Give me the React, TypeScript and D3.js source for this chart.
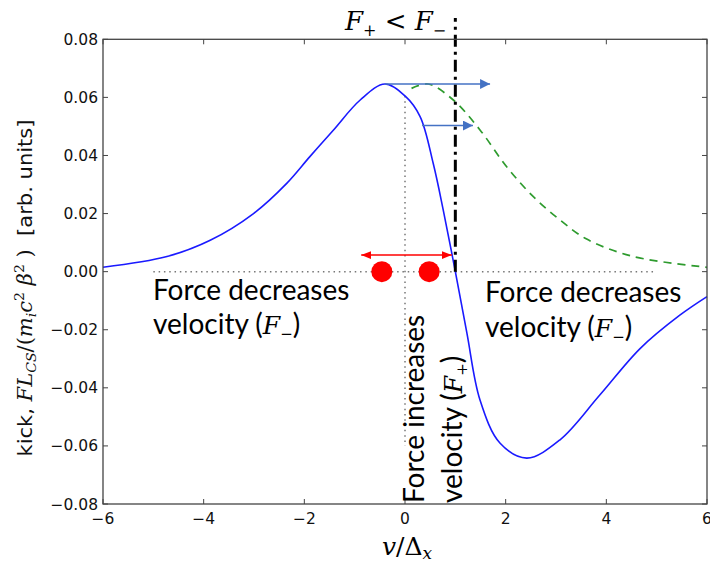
import React from "react";
import * as d3 from "d3";

// blue solid curve
const blueX = [-6, -4.73, -3.87, -3.01, -2.35, -1.89, -1.42, -0.89, -0.4, 0, 0.3, 0.56, 0.76, 1.0, 1.23, 1.49, 1.89, 2.42, 3.08, 3.87, 4.67, 5.46, 6];
const blueY = [0.0015, 0.0052, 0.0108, 0.02, 0.0304, 0.0396, 0.0488, 0.0591, 0.0646, 0.0605, 0.0534, 0.0373, 0.0212, 0, -0.0212, -0.0442, -0.0591, -0.0642, -0.0579, -0.0425, -0.0265, -0.015, -0.0086];

// green dashed curve
const greenX = [0.13, 0.46, 0.96, 1.49, 2.02, 2.55, 3.08, 3.61, 4.54, 6];
const greenY = [0.0631, 0.0646, 0.0591, 0.0488, 0.0361, 0.0258, 0.0178, 0.0112, 0.0052, 0.0015];

const xTicks = [-6, -4, -2, 0, 2, 4, 6];
const yTicks = [-0.08, -0.06, -0.04, -0.02, 0, 0.02, 0.04, 0.06, 0.08];

// red particles and arrows
const dotX = [-0.46, 0.48];
const blueArrows = [
  { x0: -0.4, x1: 1.69, y: 0.0646 },
  { x0: 0.34, x1: 1.35, y: 0.0503 },
];
const redArrow = { x0: -0.87, x1: 0.93, y: 0.0057 };
const lineX = 1.0;

const sans = "Lato, 'Open Sans', sans-serif";
const serif = "'DejaVu Serif', 'Liberation Serif', serif";
const tickFont = "'DejaVu Sans', sans-serif";

const App = () => {
  const x = d3.scaleLinear().domain([-6, 6]).range([103, 707]);
  const y = d3.scaleLinear().domain([-0.08, 0.08]).range([504, 39.3]);

  const blueLine = d3
    .line<number>()
    .x((d, i) => x(blueX[i]))
    .y((d) => y(d))
    .curve(d3.curveCatmullRom.alpha(0.5));
  const greenLine = d3
    .line<number>()
    .x((d, i) => x(greenX[i]))
    .y((d) => y(d))
    .curve(d3.curveCatmullRom.alpha(0.5));

  const fx = d3.format("d");
  const fy = d3.format(".2f");
  const [x0, x1] = x.range();
  const [y0, y1] = y.range();

  return (
    <svg width={710} height={565} style={{ position: "absolute", left: 0, top: 0, background: "white" }}>
      <defs>
        <marker id="blueHead" markerUnits="userSpaceOnUse" markerWidth={11} markerHeight={11} refX={10} refY={5} orient="auto">
          <path d="M0,0 L10,5 L0,10 z" fill="#4472C4" />
        </marker>
        <marker id="redHead" markerUnits="userSpaceOnUse" markerWidth={11} markerHeight={9} refX={10} refY={4} orient="auto-start-reverse">
          <path d="M0,0 L10,4 L0,8 z" fill="#FF0000" />
        </marker>
      </defs>

      {/* reference dotted lines */}
      <line x1={x(-5)} x2={x(5)} y1={y(0)} y2={y(0)} stroke="#777" strokeWidth={1.5} strokeDasharray="1.5,3.8" />
      <line x1={x(0)} x2={x(0)} y1={y(0.0605)} y2={y(-0.06)} stroke="#777" strokeWidth={1.5} strokeDasharray="1.5,3.8" />

      {/* curves */}
      <path d={greenLine(greenY) || ""} fill="none" stroke="#2e9b2e" strokeWidth={1.7} strokeDasharray="8,6" />
      <path d={blueLine(blueY) || ""} fill="none" stroke="#1a1aff" strokeWidth={1.6} />

      {/* blue shift arrows */}
      {blueArrows.map((a, i) => (
        <line key={i} x1={x(a.x0)} x2={x(a.x1)} y1={y(a.y)} y2={y(a.y)} stroke="#4472C4" strokeWidth={1.4} markerEnd="url(#blueHead)" />
      ))}

      {/* dash-dot threshold */}
      <line x1={x(lineX)} x2={x(lineX)} y1={y(0)} y2={18} stroke="black" strokeWidth={3} strokeDasharray="12,5,3,5" />

      {/* red particles */}
      <line x1={x(redArrow.x0)} x2={x(redArrow.x1)} y1={y(redArrow.y)} y2={y(redArrow.y)} stroke="#FF0000" strokeWidth={1.5}
        markerStart="url(#redHead)" markerEnd="url(#redHead)" />
      {dotX.map((d, i) => (
        <circle key={i} cx={x(d)} cy={y(0)} r={10.5} fill="#FF0000" />
      ))}

      {/* frame */}
      <rect x={x0} y={y1} width={x1 - x0} height={y0 - y1} fill="none" stroke="#444" strokeWidth={1.3} />
      {xTicks.map((t) => (
        <g key={"x" + t}>
          <line x1={x(t)} x2={x(t)} y1={y0} y2={y0 - 5} stroke="#444" />
          <line x1={x(t)} x2={x(t)} y1={y1} y2={y1 + 5} stroke="#444" />
          <text x={x(t)} y={y0 + 20} textAnchor="middle" fontFamily={tickFont} fontSize={15.5} fill="#111">{fx(t)}</text>
        </g>
      ))}
      {yTicks.map((t) => (
        <g key={"y" + t}>
          <line x1={x0} x2={x0 + 5} y1={y(t)} y2={y(t)} stroke="#444" />
          <line x1={x1} x2={x1 - 5} y1={y(t)} y2={y(t)} stroke="#444" />
          <text x={x0 - 5} y={y(t)} dy="0.36em" textAnchor="end" fontFamily={tickFont} fontSize={15.5} fill="#111">{fy(t)}</text>
        </g>
      ))}

      {/* title */}
      <text x={345} y={30} fontFamily={serif} fontSize={26} fill="black">
        <tspan fontStyle="italic">F</tspan>
        <tspan fontSize={16} dy={6}>+</tspan>
        <tspan dy={-6}> &lt; </tspan>
        <tspan fontStyle="italic">F</tspan>
        <tspan fontSize={16} dy={6}>−</tspan>
      </text>

      {/* axis labels */}
      <text x={407} y={555} textAnchor="middle" fontFamily={serif} fontSize={25} fill="black">
        <tspan fontStyle="italic">v</tspan>
        <tspan>/Δ</tspan>
        <tspan fontStyle="italic" fontSize={17} dy={4}>x</tspan>
      </text>
      <text transform="translate(32,288) rotate(-90) scale(1.08,1)" textAnchor="middle" fontSize={19.5} fill="#111" fontFamily={tickFont}>
        <tspan>kick, </tspan>
        <tspan fontFamily={serif} fontStyle="italic">FL</tspan>
        <tspan fontFamily={serif} fontStyle="italic" fontSize={13} dy={4}>CS</tspan>
        <tspan fontFamily={serif} dy={-4}>/(</tspan>
        <tspan fontFamily={serif} fontStyle="italic">m</tspan>
        <tspan fontFamily={serif} fontStyle="italic" fontSize={13} dy={4}>i</tspan>
        <tspan fontFamily={serif} fontStyle="italic" dy={-4}>c</tspan>
        <tspan fontFamily={serif} fontSize={13} dy={-8}>2</tspan>
        <tspan fontFamily={serif} fontStyle="italic" dy={8}> β</tspan>
        <tspan fontFamily={serif} fontSize={13} dy={-8}>2</tspan>
        <tspan fontFamily={serif} dy={8}> )</tspan>
        <tspan>{"\u00a0\u00a0[arb. units]"}</tspan>
      </text>

      {/* annotations */}
      <g fontFamily={sans} fontSize={28} fill="black">
        <text x={153} y={300}>Force decreases</text>
        <text x={153} y={334}>
          velocity (<tspan fontFamily={serif} fontStyle="italic" fontSize={25}>F</tspan>
          <tspan fontFamily={serif} fontSize={15} dy={5}>−</tspan>
          <tspan dy={-5}>)</tspan>
        </text>
        <text x={485} y={302}>Force decreases</text>
        <text x={485} y={337}>
          velocity (<tspan fontFamily={serif} fontStyle="italic" fontSize={25}>F</tspan>
          <tspan fontFamily={serif} fontSize={15} dy={5}>−</tspan>
          <tspan dy={-5}>)</tspan>
        </text>
        <text transform="translate(424,503) rotate(-90)">Force increases</text>
        <text transform="translate(462,503) rotate(-90)">
          velocity (<tspan fontFamily={serif} fontStyle="italic" fontSize={25}>F</tspan>
          <tspan fontFamily={serif} fontSize={15} dy={5}>+</tspan>
          <tspan dy={-5}>)</tspan>
        </text>
      </g>
    </svg>
  );
};

export default App;
